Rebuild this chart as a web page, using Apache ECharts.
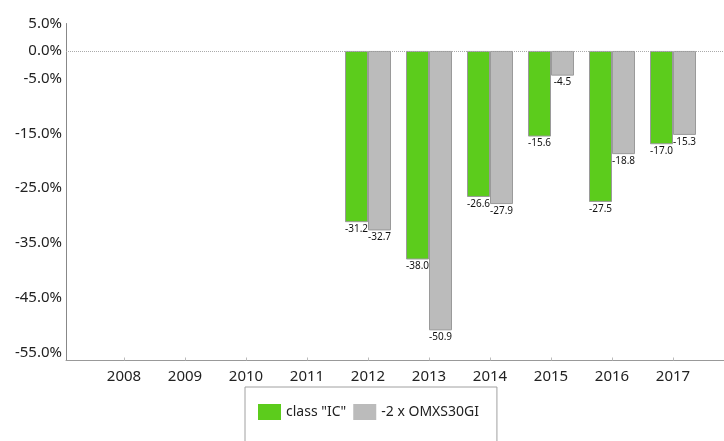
<!DOCTYPE html>
<html lang="en">
<head>
    <meta charset="UTF-8">
    <title>class IC vs OMXS30GI</title>
    <script src="https://cdn.jsdelivr.net/npm/echarts/dist/echarts.min.js"></script>
    <style>
        html, body { margin: 0; padding: 0; background: #fff; }
        #chart { width: 724px; height: 441px; }
    </style>
</head>
<body>
<div id="chart"></div>
<script>
    // data
    var years = ['2008', '2009', '2010', '2011', '2012', '2013', '2014', '2015', '2016', '2017'];
    var classIC = [null, null, null, null, -31.2, -38.0, -26.6, -15.6, -27.5, -17.0];
    var omxs = [null, null, null, null, -32.7, -50.9, -27.9, -4.5, -18.8, -15.3];
    var yLabels = [5, 0, -5, -15, -25, -35, -45, -55];
    var seriesNames = ['class "IC"', '-2 x OMXS30GI'];

    var yMin = -56.4, yMax = 5;
    var font = 'Noto Sans';

    var chart = echarts.init(document.getElementById('chart'));

    var barLabel = {
        show: true,
        position: 'bottom',
        distance: 2,
        color: '#111',
        fontSize: 10,
        fontFamily: font,
        formatter: function (p) { return p.value.toFixed(1); }
    };

    var options = {
        animation: false,
        grid: [
            // outer grid: axis lines, y labels, zero line
            { left: 66, right: 0, top: 23.5, bottom: 80.5 },
            // inner grid: the bars
            { left: 93.5, right: 20.5, top: 23.5, bottom: 80.5 }
        ],
        legend: {
            data: seriesNames,
            left: 245,
            top: 387,
            orient: 'horizontal',
            icon: 'rect',
            itemWidth: 23,
            itemHeight: 16,
            itemGap: 7,
            padding: [17, 18, 40, 13],
            borderColor: '#a0a0a0',
            borderWidth: 1,
            itemStyle: { borderWidth: 0 },
            textStyle: { fontSize: 14, fontFamily: font, color: '#222' }
        },
        xAxis: [
            {
                gridIndex: 0, type: 'value', min: 0, max: 1,
                axisLine: { show: true, onZero: false, lineStyle: { color: '#999' } },
                axisTick: { show: false }, axisLabel: { show: false }, splitLine: { show: false }
            },
            {
                gridIndex: 1, type: 'category', data: years,
                axisLine: { show: false, onZero: false },
                axisTick: { show: true, alignWithLabel: true, inside: true, length: 3, lineStyle: { color: '#bbb' } },
                axisLabel: { fontSize: 15, fontFamily: font, color: '#222', margin: 9 }
            }
        ],
        yAxis: [
            {
                gridIndex: 0, type: 'value', min: yMin, max: yMax,
                axisLine: { show: true, lineStyle: { color: '#888' } },
                axisTick: { show: false },
                splitLine: { show: false },
                axisLabel: {
                    customValues: yLabels,
                    fontSize: 15, fontFamily: font, color: '#222', margin: 4,
                    formatter: function (v) { return v.toFixed(1) + '%'; }
                }
            },
            {
                gridIndex: 1, type: 'value', min: yMin, max: yMax, show: false
            }
        ],
        series: [
            {
                type: 'line', xAxisIndex: 0, yAxisIndex: 0, data: [],
                silent: true,
                markLine: {
                    silent: true, symbol: 'none', label: { show: false },
                    lineStyle: { color: '#aaa', type: 'dotted', width: 1 },
                    data: [{ yAxis: 0 }]
                }
            },
            {
                name: seriesNames[0], type: 'bar', xAxisIndex: 1, yAxisIndex: 1,
                data: classIC, barWidth: 23, barGap: '0%',
                itemStyle: { color: '#5ccc1c', borderColor: '#9a9a9a', borderWidth: 1 },
                label: barLabel
            },
            {
                name: seriesNames[1], type: 'bar', xAxisIndex: 1, yAxisIndex: 1,
                data: omxs, barWidth: 23, barGap: '0%',
                itemStyle: { color: '#bbbbbb', borderColor: '#9a9a9a', borderWidth: 1 },
                label: barLabel
            }
        ]
    };

    chart.setOption(options);
</script>
</body>
</html>
